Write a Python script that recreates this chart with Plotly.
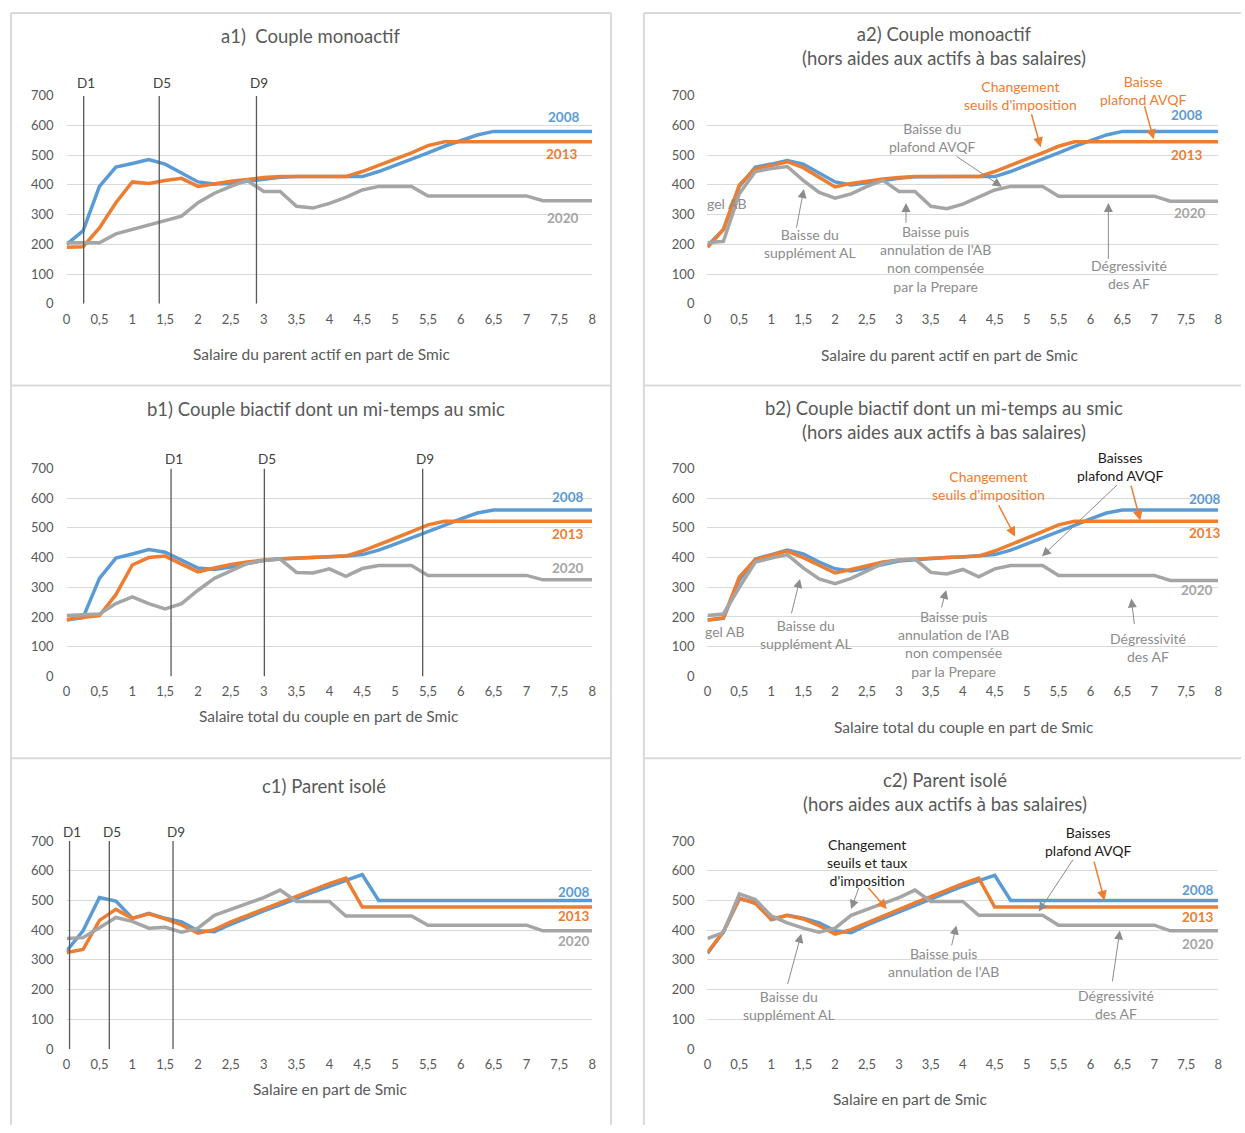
import plotly.graph_objects as go

# Salaire en part de Smic (pas de 0,25)
salaire = [0, 0.25, 0.5, 0.75, 1, 1.25, 1.5, 1.75, 2, 2.25, 2.5, 2.75, 3, 3.25, 3.5, 3.75,
           4, 4.25, 4.5, 4.75, 5, 5.25, 5.5, 5.75, 6, 6.25, 6.5, 6.75, 7, 7.25, 7.5, 7.75, 8]

# a1) Couple monoactif
a1_2008 = [200, 245, 395, 460, 472, 485, 470, 440, 410, 403, 405, 412, 420, 426, 428, 428, 428,
           428, 428, 445, 465, 485, 508, 530, 550, 568, 580, 580, 580, 580, 580, 580, 580]
a1_2013 = [190, 192, 255, 340, 410, 405, 415, 422, 395, 405, 412, 418, 425, 428, 428, 428, 428,
           428, 445, 465, 487, 508, 532, 545, 545, 545, 545, 545, 545, 545, 545, 545, 545]
a1_2020 = [205, 205, 205, 235, 250, 265, 280, 295, 340, 372, 395, 415, 378, 378, 328, 322, 338,
           358, 383, 395, 395, 395, 363, 363, 363, 363, 363, 363, 363, 347, 347, 347, 347]

# a2) Couple monoactif hors aides aux actifs a bas salaires
a2_2008 = [195, 250, 395, 460, 470, 482, 470, 440, 410, 400, 408, 416, 422, 427, 428, 428, 428,
           428, 428, 445, 465, 485, 508, 530, 550, 568, 580, 580, 580, 580, 580, 580, 580]
a2_2013 = [190, 250, 400, 455, 465, 478, 458, 425, 393, 405, 413, 420, 425, 428, 428, 428, 428,
           428, 445, 465, 487, 508, 530, 545, 545, 545, 545, 545, 545, 545, 545, 545, 545]
a2_2020 = [205, 210, 370, 445, 455, 462, 415, 375, 355, 370, 395, 415, 378, 378, 328, 320, 335,
           358, 383, 395, 395, 395, 362, 362, 362, 362, 362, 362, 362, 345, 345, 345, 345]

# b1) Couple biactif dont un mi-temps au smic
b1_2008 = [190, 198, 330, 398, 412, 427, 418, 390, 365, 360, 368, 380, 390, 395, 397, 400, 402,
           405, 410, 425, 445, 465, 487, 508, 530, 550, 560, 560, 560, 560, 560, 560, 560]
b1_2013 = [192, 198, 205, 275, 375, 400, 405, 378, 352, 365, 377, 385, 392, 396, 398, 400, 402,
           405, 422, 445, 465, 487, 510, 522, 522, 522, 522, 522, 522, 522, 522, 522, 522]
b1_2020 = [205, 207, 210, 245, 268, 245, 227, 245, 290, 330, 355, 380, 390, 395, 350, 348, 362,
           337, 363, 373, 373, 373, 340, 340, 340, 340, 340, 340, 340, 325, 325, 325, 325]

# b2) Couple biactif hors aides aux actifs a bas salaires
b2_2008 = [190, 195, 325, 395, 410, 425, 412, 385, 362, 355, 365, 378, 388, 393, 397, 400, 402,
           405, 410, 425, 445, 465, 487, 508, 530, 550, 560, 560, 560, 560, 560, 560, 560]
b2_2013 = [190, 197, 335, 393, 408, 422, 400, 375, 348, 360, 372, 385, 392, 396, 398, 400, 402,
           405, 422, 445, 465, 487, 510, 522, 522, 522, 522, 522, 522, 522, 522, 522, 522]
b2_2020 = [205, 210, 300, 385, 398, 410, 365, 328, 312, 330, 355, 380, 392, 395, 350, 345, 360,
           335, 362, 373, 373, 373, 340, 340, 340, 340, 340, 340, 340, 323, 323, 323, 323]

# c1) Parent isole
c1_2008 = [330, 398, 510, 498, 440, 457, 440, 428, 398, 395, 420, 443, 465, 485, 508, 528, 548,
           567, 587, 500, 500, 500, 500, 500, 500, 500, 500, 500, 500, 500, 500, 500, 500]
c1_2013 = [325, 335, 433, 470, 440, 455, 438, 418, 390, 402, 428, 450, 472, 492, 513, 535, 557,
           575, 478, 478, 478, 478, 478, 478, 478, 478, 478, 478, 478, 478, 478, 478, 478]
c1_2020 = [372, 375, 408, 443, 430, 407, 410, 393, 407, 450, 470, 490, 510, 535, 497, 497, 497,
           448, 448, 448, 448, 448, 417, 417, 417, 417, 417, 417, 417, 398, 398, 398, 398]

# c2) Parent isole hors aides aux actifs a bas salaires
c2_2008 = [322, 395, 505, 495, 435, 450, 440, 425, 398, 392, 418, 440, 462, 485, 505, 527, 548,
           567, 585, 500, 500, 500, 500, 500, 500, 500, 500, 500, 500, 500, 500, 500, 500]
c2_2013 = [325, 395, 508, 490, 437, 450, 438, 415, 387, 402, 425, 448, 470, 492, 513, 535, 557,
           575, 478, 478, 478, 478, 478, 478, 478, 478, 478, 478, 478, 478, 478, 478, 478]
c2_2020 = [372, 392, 522, 503, 448, 425, 407, 393, 407, 450, 470, 490, 510, 535, 497, 497, 497,
           450, 450, 450, 450, 450, 417, 417, 417, 417, 417, 417, 417, 398, 398, 398, 398]

# deciles de salaire (D1, D5, D9)
deciles = ["D1", "D5", "D9"]
deciles_a1 = [0.26, 1.41, 2.89]
deciles_b1 = [1.59, 3.01, 5.42]
deciles_c1 = [0.045, 0.65, 1.62]

annees = ["2008", "2013", "2020"]
tick_vals = [0, 0.5, 1, 1.5, 2, 2.5, 3, 3.5, 4, 4.5, 5, 5.5, 6, 6.5, 7, 7.5, 8]
tick_text = ["0", "0,5", "1", "1,5", "2", "2,5", "3", "3,5", "4", "4,5", "5", "5,5",
             "6", "6,5", "7", "7,5", "8"]

W, H = 1245, 1133
BLUE, ORANGE, GREY = "#5B9BD5", "#ED7D31", "#A5A5A5"
TXT = "#595959"
NOTE = "#8C8C8C"
FONT = "Lato"
colors = [BLUE, ORANGE, GREY]


def px(x):
    return x / W


def py(y):
    return 1 - y / H


panels = [
    dict(series=[a1_2008, a1_2013, a1_2020], xdom=(63, 592), ydom=(89, 300)),
    dict(series=[a2_2008, a2_2013, a2_2020], xdom=(708, 1222), ydom=(89, 300)),
    dict(series=[b1_2008, b1_2013, b1_2020], xdom=(63, 592), ydom=(467, 678)),
    dict(series=[b2_2008, b2_2013, b2_2020], xdom=(708, 1222), ydom=(467, 678)),
    dict(series=[c1_2008, c1_2013, c1_2020], xdom=(63, 592), ydom=(845, 1056)),
    dict(series=[c2_2008, c2_2013, c2_2020], xdom=(708, 1222), ydom=(845, 1056)),
]

fig = go.Figure()
layout = {}
for i, p in enumerate(panels):
    n = "" if i == 0 else str(i + 1)
    for annee, vals, col in zip(annees, p["series"], colors):
        fig.add_trace(go.Scatter(x=salaire, y=vals, mode="lines", name=annee,
                                 line=dict(color=col, width=3.5), xaxis="x" + n, yaxis="y" + n,
                                 showlegend=False, hoverinfo="skip"))
    layout["xaxis" + n] = dict(domain=[px(p["xdom"][0]), px(p["xdom"][1])], range=[0, 8],
                               tickvals=tick_vals, ticktext=tick_text, showgrid=False,
                               zeroline=False, showline=False, anchor="y" + n,
                               tickfont=dict(size=13, color=TXT, family=FONT),
                               ticklabelstandoff=6)
    layout["yaxis" + n] = dict(domain=[py(p["ydom"][1]), py(p["ydom"][0])], range=[0, 700],
                               dtick=100, gridcolor="#D9D9D9", gridwidth=1, zeroline=False,
                               showline=False, anchor="x" + n,
                               tickfont=dict(size=13, color=TXT, family=FONT),
                               ticklabelstandoff=12)

ann = []
shapes = []


def to_paper(k, xv, yv):
    # position dans le panneau k (valeurs des axes) -> coordonnees papier
    x0, x1 = panels[k]["xdom"]
    y0, y1 = panels[k]["ydom"]
    return px(x0 + xv / 8 * (x1 - x0)), py(y1 - yv / 700 * (y1 - y0))


def note(k, x, y, text, color=NOTE, bold=False, size=14):
    if bold:
        text = "<b>" + text + "</b>"
    xp, yp = to_paper(k, x, y)
    ann.append(dict(x=xp, y=yp, xref="paper", yref="paper", text=text, showarrow=False,
                    xanchor="center", yanchor="middle",
                    font=dict(size=size, color=color, family=FONT), align="center"))


def arrow(k, x0, y0, x1, y1, color=NOTE, width=1):
    n = "" if k == 0 else str(k + 1)
    ann.append(dict(x=x1, y=y1, ax=x0, ay=y0, xref="x" + n, yref="y" + n,
                    axref="x" + n, ayref="y" + n, text="", showarrow=True,
                    arrowhead=2, arrowsize=1.8 if width < 1.5 else 1.3,
                    arrowwidth=width, arrowcolor=color))


def paper_text(x, y, text, size, color=TXT):
    ann.append(dict(x=px(x), y=py(y), xref="paper", yref="paper", text=text, showarrow=False,
                    xanchor="center", yanchor="middle",
                    font=dict(size=size, color=color, family=FONT), align="center"))


# titres
paper_text(308, 28, "a1)  Couple monoactif", 18.5)
paper_text(946, 39, "a2) Couple monoactif<br>(hors aides aux actifs à bas salaires)", 18.5)
paper_text(324, 407, "b1) Couple biactif dont un mi-temps au smic", 18.5)
paper_text(946, 418, "b2) Couple biactif dont un mi-temps au smic<br>(hors aides aux actifs à bas salaires)", 18.5)
paper_text(322, 789, "c1) Parent isolé", 18.5)
paper_text(947, 795, "c2) Parent isolé<br>(hors aides aux actifs à bas salaires)", 18.5)

# titres des axes
paper_text(320, 351, "Salaire du parent actif en part de Smic", 15.5)
paper_text(952, 352, "Salaire du parent actif en part de Smic", 15.5)
paper_text(327, 718, "Salaire total du couple en part de Smic", 15.5)
paper_text(966, 729, "Salaire total du couple en part de Smic", 15.5)
paper_text(328, 1096, "Salaire en part de Smic", 15.5)
paper_text(912, 1107, "Salaire en part de Smic", 15.5)

# deciles
for k, pos, ylab in [(0, deciles_a1, 743), (2, deciles_b1, 730), (4, deciles_c1, 730)]:
    n = "" if k == 0 else str(k + 1)
    for lab, xv in zip(deciles, pos):
        shapes.append(dict(type="line", xref="x" + n, yref="y" + n, x0=xv, x1=xv, y0=0, y1=700,
                           line=dict(color="#595959", width=1.3)))
        note(k, xv + 0.04, ylab, lab, color="#404040", size=13.5)

# etiquettes des series
labels = [
    [(7.56, 630), (7.53, 504), (7.55, 289)],
    [(7.5, 634), (7.5, 501), (7.55, 305)],
    [(7.62, 604), (7.62, 478), (7.62, 365)],
    [(7.78, 597), (7.78, 484), (7.66, 292)],
    [(7.72, 528), (7.72, 448), (7.72, 365)],
    [(7.67, 537), (7.67, 445), (7.67, 355)],
]
for k, pts in enumerate(labels):
    for (xv, yv), annee, col in zip(pts, annees, colors):
        note(k, xv, yv, annee, color=col, bold=True, size=13.5)

# a2 commentaires
note(1, 4.9, 702, "Changement<br>seuils d'imposition", color=ORANGE)
note(1, 6.83, 718, "Baisse<br>plafond AVQF", color=ORANGE)
note(1, 3.53, 561, "Baisse du<br>plafond AVQF")
note(1, 0.3, 338, "gel AB")
note(1, 1.6, 204, "Baisse du<br>supplément AL")
note(1, 3.58, 151, "Baisse puis<br>annulation de l'AB<br>non compensée<br>par la Prepare")
note(1, 6.61, 97, "Dégressivité<br>des AF")
arrow(1, 5.07, 643, 5.22, 527, ORANGE, 1.5)
arrow(1, 6.84, 670, 6.99, 554, ORANGE, 1.5)
arrow(1, 3.88, 499, 4.61, 394)
arrow(1, 1.39, 251, 1.51, 386)
arrow(1, 3.11, 267, 3.11, 339)
arrow(1, 6.28, 146, 6.28, 339)

# b2 commentaires
note(3, 4.4, 644, "Changement<br>seuils d'imposition", color=ORANGE)
note(3, 6.47, 707, "Baisses<br>plafond AVQF", color="#1a1a1a")
note(3, 0.27, 152, "gel AB")
note(3, 1.54, 140, "Baisse du<br>supplément AL")
note(3, 3.85, 108, "Baisse puis<br>annulation de l'AB<br>non compensée<br>par la Prepare")
note(3, 6.9, 96, "Dégressivité<br>des AF")
arrow(3, 4.55, 581, 4.82, 470, ORANGE, 1.5)
arrow(3, 6.63, 647, 6.78, 525, ORANGE, 1.5)
arrow(3, 6.44, 649, 5.24, 404)
arrow(3, 1.31, 207, 1.45, 328)
arrow(3, 3.66, 227, 3.74, 291)
arrow(3, 6.69, 171, 6.64, 262)

# c2 commentaires
note(5, 2.5, 627, "Changement<br>seuils et taux<br>d'imposition", color="#1a1a1a")
note(5, 5.97, 698, "Baisses<br>plafond AVQF", color="#1a1a1a")
note(5, 1.28, 147, "Baisse du<br>supplément AL")
note(5, 3.69, 293, "Baisse puis<br>annulation de l'AB")
note(5, 6.4, 149, "Dégressivité<br>des AF")
arrow(5, 2.38, 548, 2.25, 471)
arrow(5, 2.5, 548, 2.81, 471, ORANGE, 1.5)
arrow(5, 5.74, 642, 5.19, 463)
arrow(5, 6.05, 636, 6.22, 500, ORANGE, 1.5)
arrow(5, 1.25, 214, 1.47, 388)
arrow(5, 3.82, 344, 3.9, 416)
arrow(5, 6.34, 223, 6.46, 399)

# cadres des graphiques
border = dict(color="#D9D9D9", width=2)
for x in [7, 611, 644]:
    shapes.append(dict(type="line", xref="paper", yref="paper", x0=px(x), x1=px(x),
                       y0=py(5), y1=0, line=border))
for y in [5, 383, 761]:
    shapes.append(dict(type="line", xref="paper", yref="paper", x0=px(7), x1=px(611),
                       y0=py(y), y1=py(y), line=border))
    shapes.append(dict(type="line", xref="paper", yref="paper", x0=px(644), x1=1,
                       y0=py(y), y1=py(y), line=border))

fig.update_layout(width=W, height=H, margin=dict(l=0, r=0, t=0, b=0),
                  plot_bgcolor="white", paper_bgcolor="white",
                  font=dict(family=FONT, color=TXT), annotations=ann, shapes=shapes,
                  showlegend=False, **layout)

# pas de marge autour du graphique dans la page
page_style = ("document.body.style.margin='0';"
              "document.documentElement.style.overflow='hidden';"
              "document.body.style.overflow='hidden';")
fig.write_html("out.html", config={"displayModeBar": False}, post_script=page_style)
